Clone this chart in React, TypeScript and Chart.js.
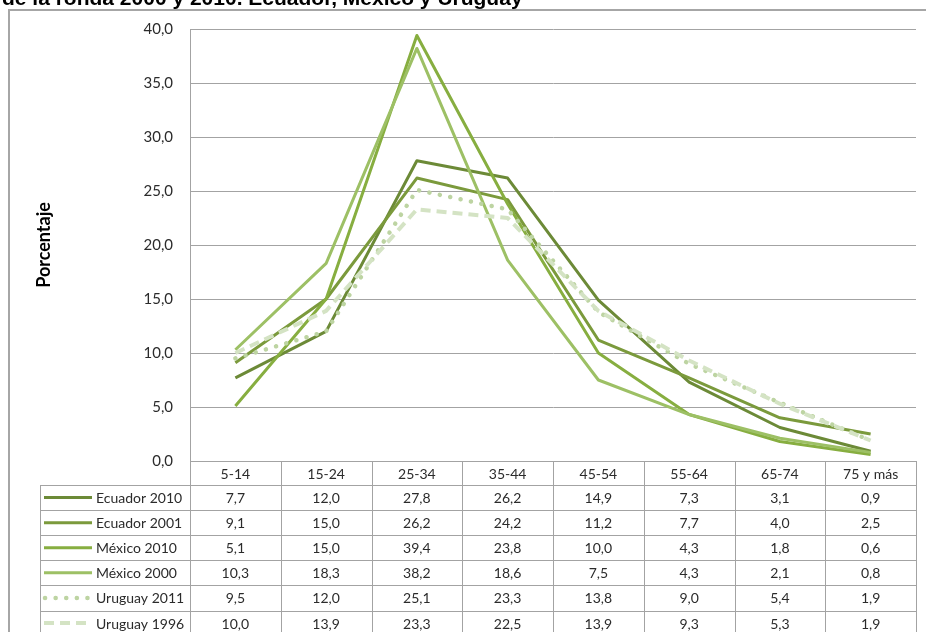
import React, { useEffect, useRef } from "react";
import { Chart, registerables } from "chart.js";

Chart.register(...registerables);

const titleText = "de la ronda 2000 y 2010. Ecuador, México y Uruguay";
const yAxisTitle = "Porcentaje";
const categories = ["5-14", "15-24", "25-34", "35-44", "45-54", "55-64", "65-74", "75 y más"];
const seriesNames = ["Ecuador 2010", "Ecuador 2001", "México 2010", "México 2000", "Uruguay 2011", "Uruguay 1996"];
const ecuador2010 = [7.7, 12.0, 27.8, 26.2, 14.9, 7.3, 3.1, 0.9];
const ecuador2001 = [9.1, 15.0, 26.2, 24.2, 11.2, 7.7, 4.0, 2.5];
const mexico2010 = [5.1, 15.0, 39.4, 23.8, 10.0, 4.3, 1.8, 0.6];
const mexico2000 = [10.3, 18.3, 38.2, 18.6, 7.5, 4.3, 2.1, 0.8];
const uruguay2011 = [9.5, 12.0, 25.1, 23.3, 13.8, 9.0, 5.4, 1.9];
const uruguay1996 = [10.0, 13.9, 23.3, 22.5, 13.9, 9.3, 5.3, 1.9];
const seriesValues = [ecuador2010, ecuador2001, mexico2010, mexico2000, uruguay2011, uruguay1996];

const seriesColors = ["#6C8A37", "#7B9A3C", "#87AE40", "#9DC065", "#BDD4A2", "#D4E3C4"];
const seriesDash: number[][] = [[], [], [], [], [0.1, 10.5], [10, 6]];
const seriesWidth = [3, 3, 3, 3, 4.5, 4];
const seriesCap: CanvasLineCap[] = ["butt", "butt", "butt", "butt", "round", "butt"];

const fmt = (v: number) => v.toFixed(1).replace(".", ",");
const gridColor = "#A3A3A3";
const textColor = "#2B2B2B";
const bodyFont = "Lato, 'Open Sans', sans-serif";

const tablePlugin = {
  id: "tablePlugin",
  beforeDraw(chart: any) {
    const ctx = chart.ctx;
    ctx.save();
    ctx.fillStyle = "#ffffff";
    ctx.fillRect(0, 0, chart.width, chart.height);
    // title (cut off at top)
    ctx.fillStyle = "#000000";
    ctx.font = "bold 21px 'Liberation Sans', Arial, sans-serif";
    ctx.textAlign = "left";
    ctx.textBaseline = "alphabetic";
    ctx.fillText(titleText, 2, 5);
    // frame
    ctx.strokeStyle = "#A6A6A6";
    ctx.lineWidth = 2;
    ctx.beginPath();
    ctx.moveTo(9, chart.height + 2);
    ctx.lineTo(9, 10);
    ctx.lineTo(chart.width + 2, 10);
    ctx.stroke();
    ctx.restore();
  },
  afterDraw(chart: any) {
    const ctx = chart.ctx;
    const xs = chart.scales.x;
    const area = chart.chartArea;
    const n = categories.length;
    const colW = (area.right - area.left) / n;
    const headerTop = area.bottom;
    const headerH = 24;
    const rowH = 25.1;
    const legendLeft = 40;
    const rowsBottom = headerTop + headerH + rowH * seriesNames.length;
    ctx.save();
    ctx.strokeStyle = gridColor;
    ctx.lineWidth = 1;
    ctx.beginPath();
    ctx.moveTo(area.left, Math.round(headerTop) + 0.5);
    ctx.lineTo(area.right, Math.round(headerTop) + 0.5);
    for (let r = 0; r <= seriesNames.length; r++) {
      const y = Math.round(headerTop + headerH + r * rowH) + 0.5;
      ctx.moveTo(legendLeft, y);
      ctx.lineTo(area.right, y);
    }
    for (let c = 0; c <= n; c++) {
      const x = Math.round(xs.getPixelForValue(0) - colW / 2 + c * colW) + 0.5;
      ctx.moveTo(x, headerTop);
      ctx.lineTo(x, rowsBottom);
    }
    ctx.moveTo(legendLeft + 0.5, headerTop + headerH);
    ctx.lineTo(legendLeft + 0.5, rowsBottom);
    ctx.stroke();

    ctx.fillStyle = textColor;
    ctx.font = `14px ${bodyFont}`;
    ctx.textAlign = "center";
    ctx.textBaseline = "middle";
    categories.forEach((c, i) => {
      ctx.fillText(c, xs.getPixelForValue(i), headerTop + headerH / 2 + 1);
    });
    seriesNames.forEach((name, r) => {
      const cy = headerTop + headerH + r * rowH + rowH / 2 + 1;
      seriesValues[r].forEach((v, i) => {
        ctx.textAlign = "center";
        ctx.fillText(fmt(v), xs.getPixelForValue(i), cy);
      });
      ctx.save();
      ctx.strokeStyle = seriesColors[r];
      ctx.lineWidth = seriesWidth[r];
      ctx.lineCap = seriesCap[r];
      ctx.setLineDash(seriesDash[r]);
      ctx.beginPath();
      const sy = cy - 1;
      const sx0 = seriesCap[r] === "round" ? 45 : 44;
      ctx.moveTo(sx0, sy);
      ctx.lineTo(92, sy);
      ctx.stroke();
      ctx.restore();
      ctx.textAlign = "left";
      ctx.fillText(name, 96, cy);
    });
    ctx.restore();
  },
};

export default function App() {
  const ref = useRef<HTMLCanvasElement | null>(null);
  useEffect(() => {
    if (!ref.current) return;
    const chart = new Chart(ref.current, {
      type: "line",
      data: {
        labels: categories,
        datasets: seriesNames.map((name, i) => ({
          label: name,
          data: seriesValues[i],
          borderColor: seriesColors[i],
          backgroundColor: seriesColors[i],
          borderWidth: seriesWidth[i],
          borderDash: seriesDash[i],
          borderCapStyle: seriesCap[i],
          borderJoinStyle: "round" as const,
          pointRadius: 0,
          tension: 0,
          fill: false,
          order: seriesNames.length - i,
        })),
      },
      options: {
        responsive: false,
        animation: false,
        devicePixelRatio: 1,
        layout: { padding: { left: 0, top: 29, right: 10, bottom: 171 } },
        plugins: {
          legend: { display: false },
          tooltip: { enabled: false },
          title: { display: false },
        },
        scales: {
          x: {
            type: "category",
            display: false,
            offset: true,
          },
          y: {
            min: 0,
            max: 40,
            afterFit: (scale: any) => {
              scale.width = 190;
            },
            ticks: {
              stepSize: 5,
              padding: 17,
              color: textColor,
              font: { family: bodyFont, size: 15 },
              callback: (v: any) => fmt(Number(v)),
            },
            grid: {
              color: gridColor,
              lineWidth: 1,
              drawTicks: false,
            },
            border: { display: true, color: gridColor, width: 1 },
            title: {
              display: true,
              text: yAxisTitle,
              color: "#000000",
              font: { family: bodyFont, size: 18, weight: "bold" },
              padding: { top: 33, bottom: 0 },
            },
          },
        },
      },
      plugins: [tablePlugin],
    });
    return () => chart.destroy();
  }, []);
  return (
    <canvas
      ref={ref}
      width={926}
      height={632}
      style={{ position: "absolute", left: 0, top: 0, width: 926, height: 632 }}
    />
  );
}
